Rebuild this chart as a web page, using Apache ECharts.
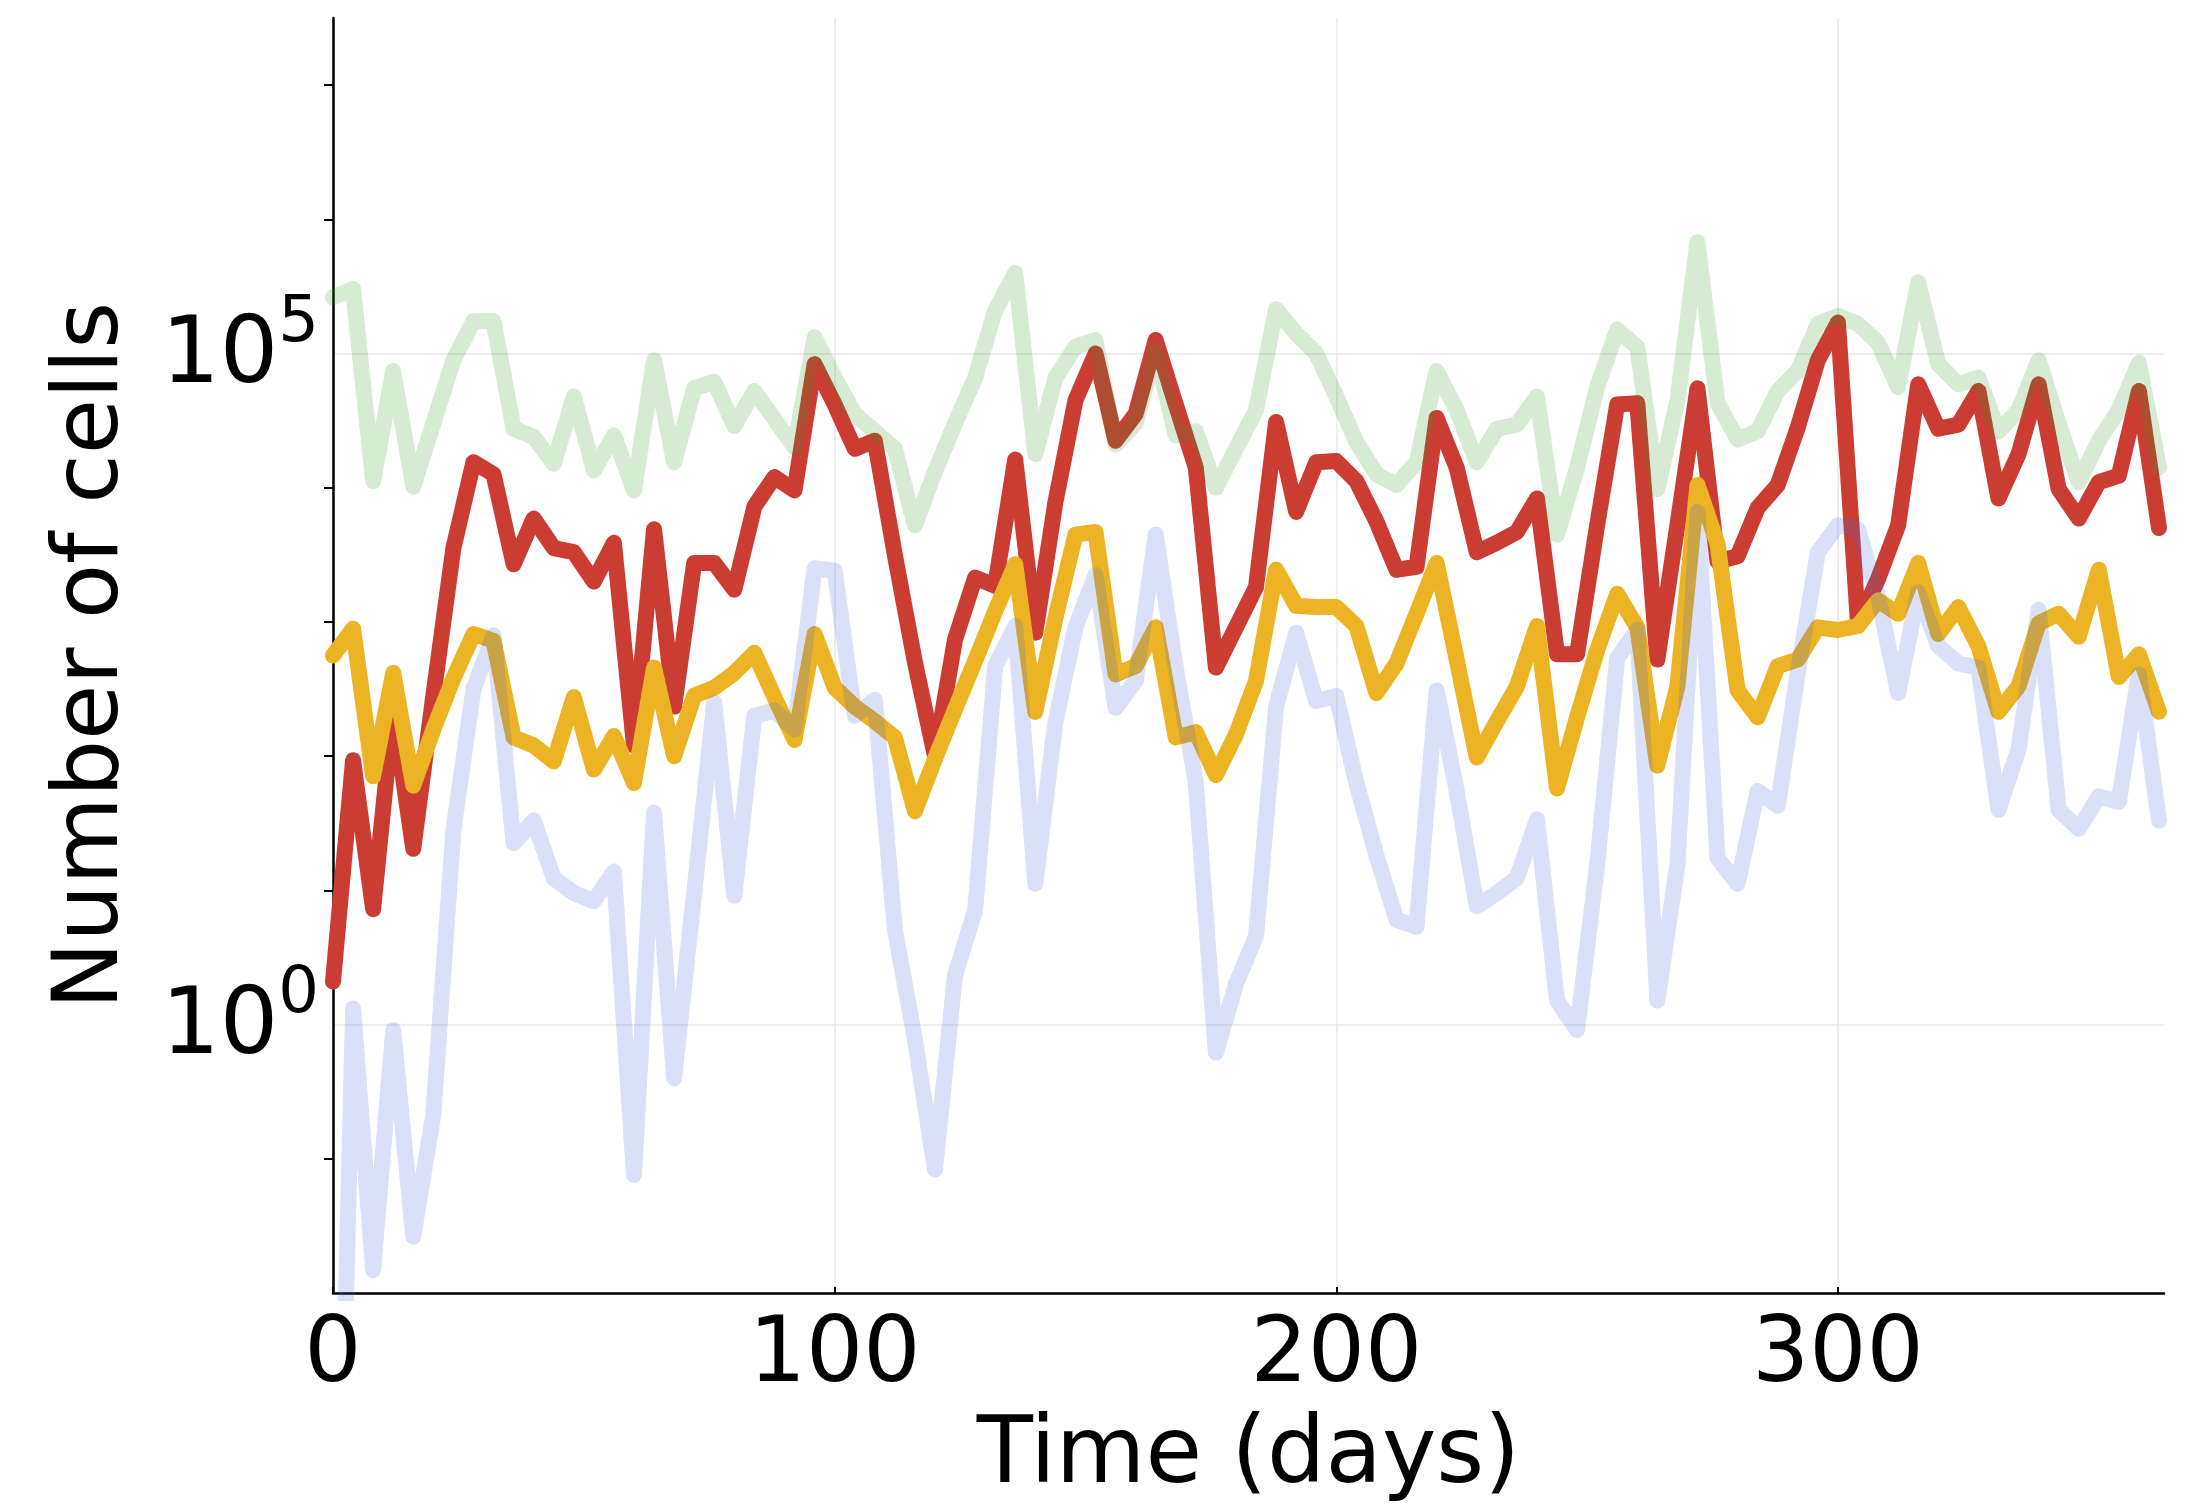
<!DOCTYPE html>
<html>
<head>
<meta charset="utf-8">
<script src="https://cdn.jsdelivr.net/npm/echarts@6/dist/echarts.min.js"></script>
<style>
  html, body { margin: 0; padding: 0; background: #fff; }
  #chart { width: 2192px; height: 1509px; }
</style>
</head>
<body>
<div id="chart"></div>
<script>
// Sampling days (every 4 days over one year)
const days = [
  0, 4, 8, 12, 16, 20, 24, 28, 32, 36, 40, 44, 48, 52, 56, 60, 64, 68, 72, 76,
  80, 84, 88, 92, 96, 100, 104, 108, 112, 116, 120, 124, 128, 132, 136, 140, 144, 148, 152, 156,
  160, 164, 168, 172, 176, 180, 184, 188, 192, 196, 200, 204, 208, 212, 216, 220, 224, 228, 232, 236,
  240, 244, 248, 252, 256, 260, 264, 268, 272, 276, 280, 284, 288, 292, 296, 300, 304, 308, 312, 316,
  320, 324, 328, 332, 336, 340, 344, 348, 352, 356, 360, 364
];

// Number of cells per population
const greenCells = [
  2.63e5, 3.02e5, 1.12e4, 7.41e4, 1.02e4, 3.02e4, 8.91e4, 1.74e5, 1.74e5, 2.75e4,
  2.4e4, 1.51e4, 4.79e4, 1.35e4, 2.45e4, 9.55e3, 8.91e4, 1.55e4, 5.5e4, 6.17e4,
  2.88e4, 5.25e4, 3.24e4, 2.0e4, 1.32e5, 6.61e4, 3.55e4, 2.63e4, 1.95e4, 5.25e3,
  1.32e4, 3.02e4, 6.61e4, 2.09e5, 3.98e5, 1.78e4, 6.61e4, 1.12e5, 1.26e5, 2.09e4,
  3.02e4, 1.05e5, 2.45e4, 2.63e4, 1.0e4, 1.95e4, 3.8e4, 2.14e5, 1.41e5, 1.0e5,
  4.79e4, 2.19e4, 1.26e4, 1.05e4, 1.55e4, 7.41e4, 3.8e4, 1.55e4, 2.75e4, 2.95e4,
  4.79e4, 4.47e3, 1.41e4, 5.62e4, 1.51e5, 1.12e5, 9.77e3, 4.47e4, 6.76e5, 4.27e4,
  2.29e4, 2.63e4, 5.25e4, 7.41e4, 1.66e5, 1.91e5, 1.66e5, 1.2e5, 5.62e4, 3.39e5,
  8.32e4, 5.89e4, 6.61e4, 2.63e4, 3.8e4, 8.91e4, 3.02e4, 1.1e4, 2.24e4, 3.8e4,
  8.51e4, 1.41e4
];

const redCells = [
  2.09, 93.3, 7.24, 224, 20.4, 282, 3550, 1.55e4, 1.26e4, 2690,
  5890, 3550, 3310, 2000, 3890, 120, 4900, 234, 2750, 2750,
  1740, 7240, 1.2e4, 9550, 8.32e4, 4.17e4, 1.95e4, 2.24e4, 3160, 501,
  100, 741, 2140, 1860, 1.62e4, 832, 7760, 4.47e4, 1.0e5, 2.24e4,
  3.55e4, 1.26e5, 4.17e4, 1.41e4, 457, 912, 1820, 3.09e4, 6610, 1.55e4,
  1.58e4, 1.12e4, 5620, 2450, 2570, 3.31e4, 1.41e4, 3310, 3890, 4680,
  8320, 575, 575, 5250, 4.17e4, 4.27e4, 525, 5250, 5.5e4, 2820,
  3090, 7080, 1.05e4, 2.82e4, 8.91e4, 1.7e5, 977, 2090, 5250, 5.89e4,
  2.75e4, 2.95e4, 5.25e4, 8320, 1.78e4, 5.89e4, 9770, 5890, 1.1e4, 1.23e4,
  5.25e4, 5010
];

const yellowCells = [
  562, 891, 70.8, 417, 60.3, 158, 380, 813, 724, 138,
  120, 91.2, 275, 79.4, 141, 63.1, 457, 100, 282, 324,
  417, 589, 275, 132, 813, 324, 234, 182, 138, 38.9,
  95.5, 224, 513, 1200, 2690, 214, 1070, 4470, 4680, 407,
  468, 912, 138, 151, 72.4, 145, 363, 2450, 1320, 1290,
  1290, 933, 295, 490, 1150, 2750, 525, 97.7, 182, 331,
  933, 57.5, 195, 617, 1620, 912, 85.1, 331, 1.05e4, 3800,
  309, 195, 468, 525, 912, 871, 933, 1450, 1150, 2750,
  813, 1290, 661, 214, 331, 977, 1150, 776, 2450, 389,
  575, 214
];

const blueCells = [
  1e-6, 1.32, 0.0148, 0.912, 0.0263, 0.214, 28.2, 316, 794, 22.4,
  33.1, 12.3, 9.55, 8.32, 13.8, 0.0759, 38, 0.398, 9.55, 251,
  9.12, 200, 219, 158, 2510, 2400, 200, 263, 5.13, 0.776,
  0.0832, 2.34, 7.08, 468, 933, 11.2, 178, 912, 2240, 229,
  363, 4470, 457, 63.1, 0.617, 2.0, 4.57, 234, 832, 257,
  282, 63.1, 18.2, 6.03, 5.37, 309, 55, 7.59, 9.55, 12.3,
  33.9, 1.51, 0.912, 15.5, 537, 871, 1.51, 15.5, 6610, 17.4,
  11.2, 55, 42.7, 417, 3310, 5250, 4900, 1550, 295, 1660,
  661, 490, 457, 39.8, 112, 1230, 39.8, 28.8, 50.1, 45.7,
  407, 33.1
];

// Axis ticks
const xTicks = [0, 100, 200, 300];
const yLabelTicks = [1, 1e5];
const yMinorTicks = [0.1, 10, 100, 1000, 1e4, 1e6, 1e7];

const font = 'DejaVu Sans';

function pairs(values) {
  return days.map((d, i) => [d, values[i]]);
}

function lineSeries(name, values, color) {
  return {
    name: name,
    type: 'line',
    data: pairs(values),
    showSymbol: false,
    symbol: 'none',
    lineStyle: { color: color, width: 16, join: 'round', cap: 'round' },
    animation: false
  };
}

const chart = echarts.init(document.getElementById('chart'));

const option = {
  backgroundColor: '#fff',
  animation: false,
  grid: { left: 333, right: 28, top: 18, bottom: 213, containLabel: false },
  xAxis: {
    type: 'value',
    min: 0,
    max: 365,
    name: 'Time (days)',
    nameLocation: 'middle',
    nameGap: 119,
    nameTextStyle: { fontFamily: font, fontSize: 92, color: '#000' },
    axisLine: { show: true, lineStyle: { color: '#000', width: 2.5 } },
    axisTick: { show: true, inside: true, length: 6, customValues: xTicks,
      lineStyle: { color: '#000', width: 2 } },
    axisLabel: { customValues: xTicks, fontFamily: font, fontSize: 90, color: '#000', margin: 20 },
    splitLine: { show: true, lineStyle: { color: '#e8e8e8', width: 1.5 } }
  },
  yAxis: [
    {
      type: 'log',
      logBase: 10,
      min: 0.01,
      max: 31622776.6,
      name: 'Number of cells',
      nameLocation: 'middle',
      nameGap: 194,
      nameRotate: 90,
      nameTextStyle: { fontFamily: font, fontSize: 90, color: '#000' },
      axisLine: { show: true, lineStyle: { color: '#000', width: 2.5 } },
      axisTick: { show: true, inside: false, length: 9, customValues: yMinorTicks,
        lineStyle: { color: '#000', width: 2 } },
      axisLabel: {
        customValues: yLabelTicks,
        margin: 14,
        padding: [10, 0, 0, 0],
        formatter: function (v) {
          return '{b|10}{s|' + Math.round(Math.log10(v)) + '}';
        },
        rich: {
          b: { fontFamily: font, fontSize: 92, color: '#000', lineHeight: 92,
            verticalAlign: 'bottom' },
          s: { fontFamily: font, fontSize: 64, color: '#000', lineHeight: 64,
            padding: [0, 0, 48, 0], verticalAlign: 'bottom' }
        }
      },
      splitLine: { show: false }
    },
    {
      type: 'log',
      logBase: 10,
      min: 0.01,
      max: 31622776.6,
      axisLine: { show: false },
      axisTick: { show: false, customValues: yLabelTicks },
      axisLabel: { show: false },
      splitLine: { show: true, lineStyle: { color: '#e8e8e8', width: 1.5 } }
    }
  ],
  series: [
    lineSeries('red', redCells, '#CB3C33'),
    lineSeries('yellow', yellowCells, '#ECB324'),
    lineSeries('green', greenCells, 'rgba(56,152,38,0.2)'),
    lineSeries('blue', blueCells, 'rgba(64,99,216,0.2)')
  ]
};

chart.setOption(option);
</script>
</body>
</html>
